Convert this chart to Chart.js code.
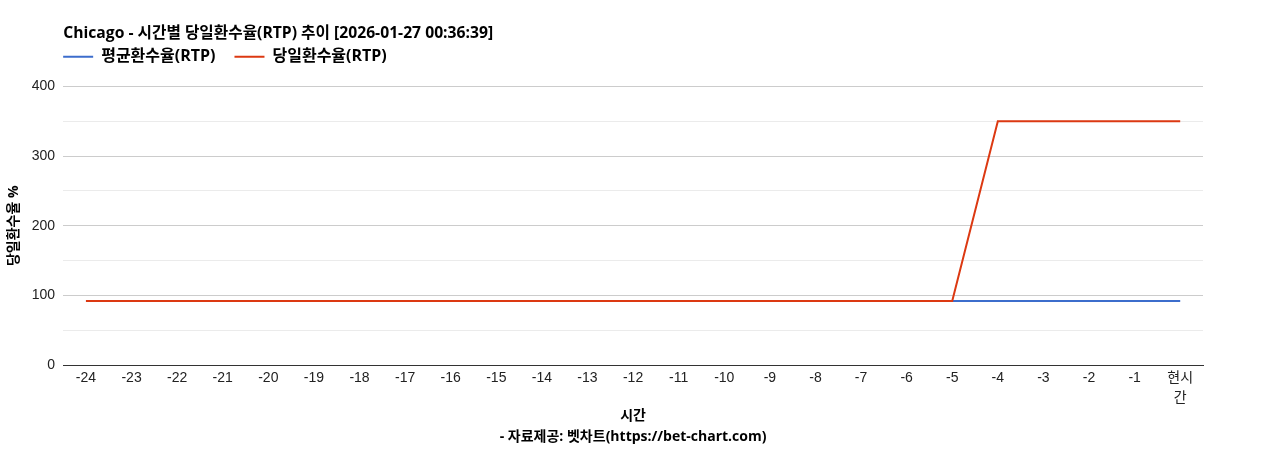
<!DOCTYPE html>
<html>
<head>
<meta charset="utf-8">
<script src="https://cdn.jsdelivr.net/npm/chart.js@4"></script>
<style>
  body { margin: 0; background: #fff; }
  #wrap { width: 1268px; height: 450px; }
</style>
</head>
<body>
<div id="wrap"><canvas id="rtpChart"></canvas></div>
<script>
// categories: hours before now
const hours = ['-24', '-23', '-22', '-21', '-20', '-19', '-18', '-17', '-16', '-15', '-14', '-13',
    '-12', '-11', '-10', '-9', '-8', '-7', '-6', '-5', '-4', '-3', '-2', '-1', ['현시', '간']];
// 평균환수율 (average RTP)
const avgRtp = [92, 92, 92, 92, 92, 92, 92, 92, 92, 92, 92, 92,
    92, 92, 92, 92, 92, 92, 92, 92, 92, 92, 92, 92, 92];
// 당일환수율 (today's RTP)
const dayRtp = [92, 92, 92, 92, 92, 92, 92, 92, 92, 92, 92, 92,
    92, 92, 92, 92, 92, 92, 92, 92, 350, 350, 350, 350, 350];
const yTicks = [0, 100, 200, 300, 400];

const FONT = "'Liberation Sans', Arial, 'Noto Sans CJK KR', sans-serif";
const BOLD_FONT = "'Open Sans', 'Noto Sans CJK KR', sans-serif";
const LEGEND_GAP = 19;

// legend starts flush with the plot's left edge, items still LEGEND_GAP apart
const legendFlush = {
    id: 'legendFlush',
    afterLayout(chart) {
        if (chart.legend) chart.legend.left = chart.chartArea.left - LEGEND_GAP;
    }
};

new Chart(document.getElementById('rtpChart').getContext('2d'), {
    type: 'line',
    data: {
        labels: hours,
        datasets: [{
            label: '평균환수율(RTP)',
            data: avgRtp,
            borderColor: '#3c6dcc',
            backgroundColor: '#3c6dcc',
            borderWidth: 2,
            pointRadius: 0,
            pointStyle: 'line',
            tension: 0,
            order: 2
        }, {
            label: '당일환수율(RTP)',
            data: dayRtp,
            borderColor: '#dc3912',
            backgroundColor: '#dc3912',
            borderWidth: 2,
            pointRadius: 0,
            pointStyle: 'line',
            tension: 0,
            order: 1
        }]
    },
    plugins: [legendFlush],
    options: {
        responsive: true,
        maintainAspectRatio: false,
        animation: false,
        layout: { padding: { top: 24, right: 65, left: 6, bottom: 2 } },
        plugins: {
            title: {
                display: true,
                text: 'Chicago - 시간별 당일환수율(RTP) 추이 [2026-01-27 00:36:39]',
                align: 'start',
                fullSize: false,
                color: '#000',
                font: { family: BOLD_FONT, size: 15.7, weight: 'bold' },
                padding: { top: 0, bottom: -13.1 }
            },
            // empty spacer between legend and plot
            subtitle: {
                display: true,
                text: '',
                weight: 500,
                fullSize: false,
                font: { size: 1 },
                padding: { top: 0, bottom: 10.5 }
            },
            legend: {
                align: 'start',
                fullSize: false,
                labels: {
                    sort: (a, b) => a.datasetIndex - b.datasetIndex,
                    usePointStyle: true,
                    pointStyleWidth: 30,
                    padding: LEGEND_GAP,
                    color: '#000',
                    font: { family: BOLD_FONT, size: 16, weight: 'bold' }
                }
            },
            tooltip: { enabled: false }
        },
        scales: {
            x: {
                offset: true,
                grid: { display: false, drawTicks: false },
                border: { color: '#333', width: 1 },
                ticks: {
                    color: '#222',
                    font: { family: FONT, size: 14, lineHeight: 1.45 },
                    maxRotation: 0,
                    autoSkip: false,
                    padding: 3
                },
                title: {
                    display: true,
                    text: ['시간', '- 자료제공: 벳차트(https://bet-chart.com)'],
                    color: '#000',
                    font: { family: BOLD_FONT, size: 14, weight: 'bold', lineHeight: 1.52 },
                    padding: { top: -6.3, bottom: 0 }
                }
            },
            y: {
                min: 0,
                max: 400,
                border: { display: false },
                grid: {
                    color: ctx => ctx.tick.value === 0 ? '#333' : (yTicks.includes(ctx.tick.value) ? '#cccccc' : '#ebebeb'),
                    drawTicks: false
                },
                ticks: {
                    stepSize: 50,
                    autoSkip: false,
                    color: '#222',
                    font: { family: FONT, size: 14 },
                    padding: 8,
                    callback: v => yTicks.includes(v) ? String(v) : ''
                },
                title: {
                    display: true,
                    text: '당일환수율 %',
                    color: '#000',
                    font: { family: BOLD_FONT, size: 14, weight: 'bold' },
                    padding: { top: 0, bottom: 1 }
                }
            }
        }
    }
});
</script>
</body>
</html>
